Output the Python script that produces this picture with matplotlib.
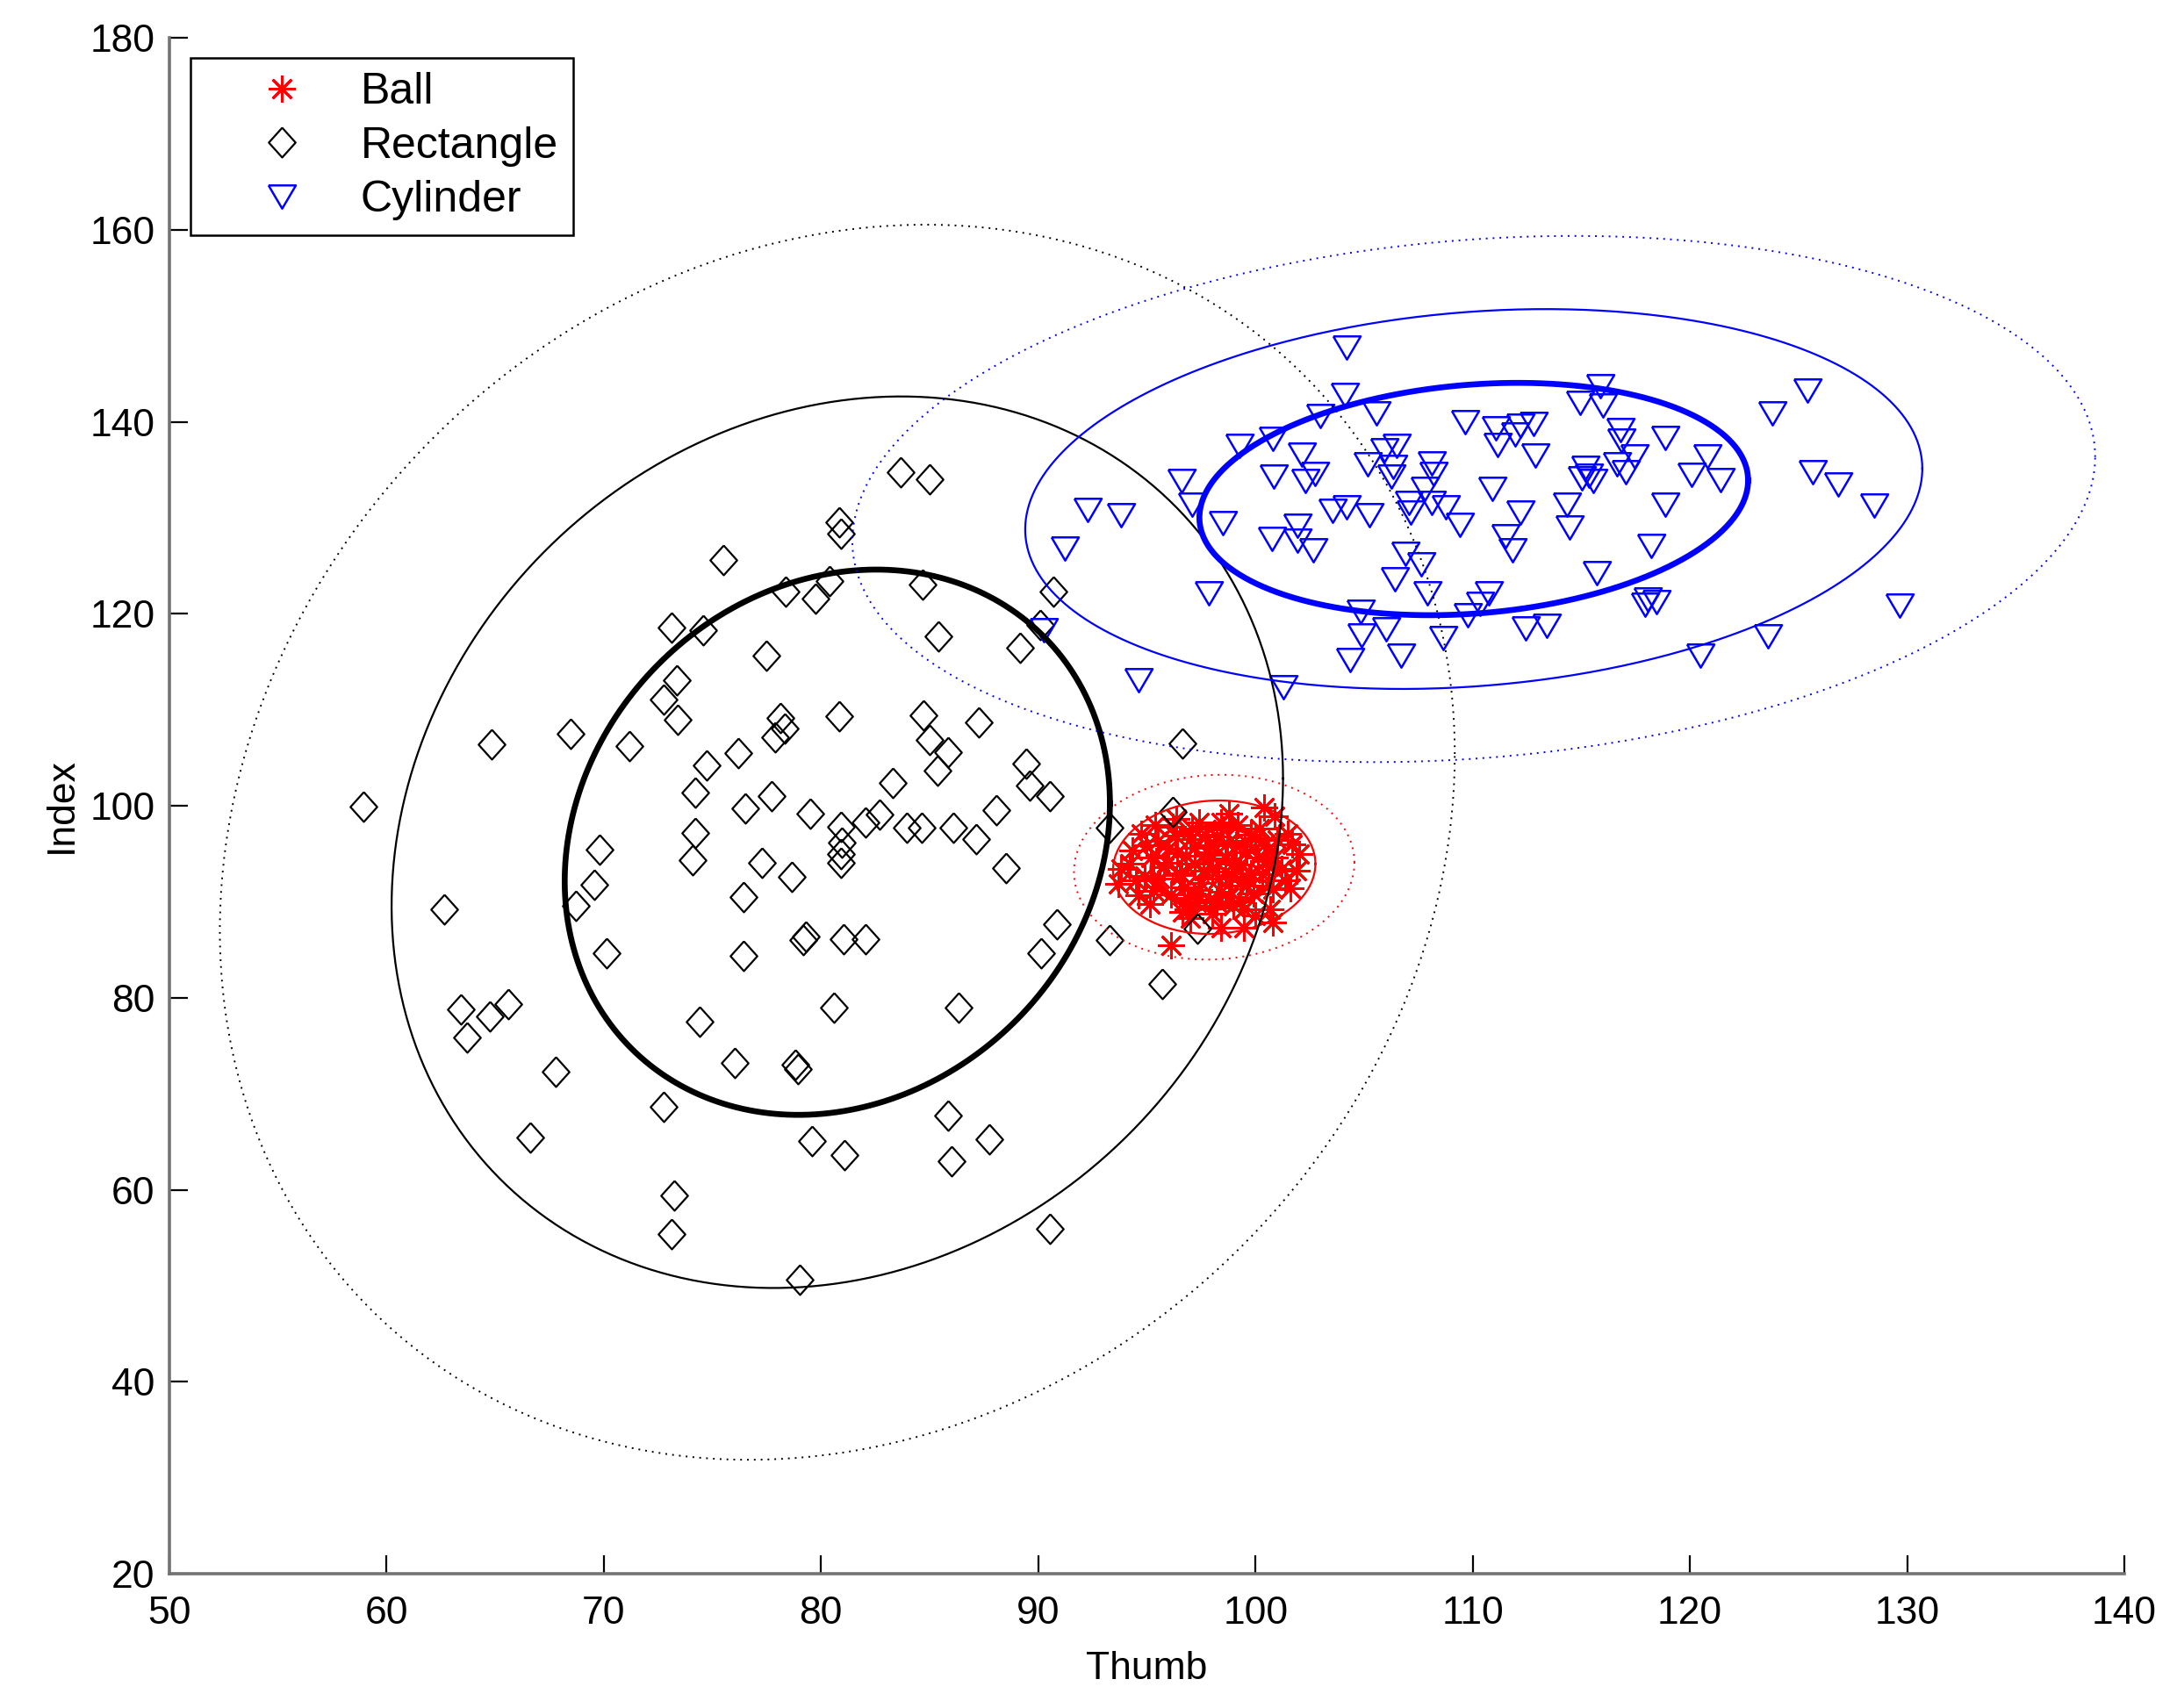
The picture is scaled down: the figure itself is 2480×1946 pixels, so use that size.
import numpy as np
import matplotlib.pyplot as plt

plt.rcParams['font.family'] = ['Liberation Sans', 'DejaVu Sans']

# Ball grasp samples (thumb, index)
ball_thumb = [98.8, 100.4, 100.9, 101.5, 102.0, 101.9, 101.35, 101.2, 100.67, 100.0,
              99.45, 98.4, 96.65, 96.1, 94.35, 93.8, 93.7, 94.6, 94.75, 95.4,
              96.36, 97.4, 96.9, 95.15, 99.45, 101.6, 101.7, 100.8,
              96.0, 96.5, 97.0, 97.2, 97.5, 97.8, 98.0, 98.2, 98.4, 98.6,
              98.9, 99.1, 99.3, 99.6, 99.8, 100.1, 100.3, 95.6, 95.9, 96.3,
              96.7, 97.1, 97.6, 97.9, 98.1, 98.5, 98.8, 99.0, 99.5, 99.9,
              100.4, 100.6, 95.5, 96.1, 96.8, 97.3, 97.7, 98.3, 99.2, 99.7,
              100.2, 95.2, 94.9, 100.8, 98.0, 97.0,
              95.8, 96.4, 97.4, 98.7, 99.4, 100.5, 96.2, 97.9, 99.0, 100.0,
              95.3, 96.6, 98.2, 99.8, 101.0, 94.5, 97.2, 98.6, 99.3, 100.9,
              95.0, 96.9, 98.4, 99.6, 94.2]
ball_index = [99.2, 99.8, 98.9, 97.1, 95.0, 93.2, 92.2, 93.4, 89.2, 88.6,
              87.3, 87.3, 88.9, 85.5, 95.3, 93.4, 91.9, 90.7, 97.1, 98.0,
              98.6, 98.3, 90.4, 89.8, 89.2, 91.4, 96.0, 87.8,
              95.5, 93.0, 96.5, 94.0, 92.0, 95.2, 93.5, 96.8, 91.0, 94.5,
              92.6, 95.8, 93.9, 91.7, 97.0, 94.6, 92.9, 92.4, 94.1, 96.9,
              91.5, 97.6, 93.2, 90.2, 95.9, 97.5, 90.5, 94.0, 96.3, 90.9,
              95.9, 93.7, 96.3, 90.8, 94.8, 89.9, 97.0, 92.4, 98.0, 92.3,
              97.6, 94.6, 92.7, 91.3, 88.8, 88.3,
              93.6, 95.1, 91.2, 96.1, 92.1, 94.2, 97.8, 94.9, 89.6, 96.6,
              91.1, 92.8, 89.9, 93.0, 96.4, 92.2, 95.6, 93.1, 90.0, 94.6,
              95.9, 89.2, 98.3, 95.2, 94.0]

# Rectangle grasp samples
rect_thumb = [58.92, 64.83, 68.46, 71.19, 75.5, 73.10, 74.57, 73.35, 72.76, 73.39,
              74.75, 76.19, 74.2, 76.5, 74.2, 74.09, 69.8, 77.5,
              62.64, 69.56, 68.7, 76.43, 76.43, 70.13, 63.4, 64.75, 65.61, 63.7,
              74.4, 76.04, 67.79, 72.77, 66.62, 73.25, 73.13,
              83.66, 84.98, 80.82, 80.92, 80.41, 78.38, 79.73, 84.68, 90.7, 90.1,
              85.4, 89.15, 96.64, 78.12, 78.35, 77.9, 80.82, 84.7, 87.25, 85.0,
              85.83, 85.38, 89.46, 89.6, 90.54, 83.29, 77.72, 79.52, 80.92, 82.04,
              82.71, 83.95, 84.63, 86.08, 88.07, 87.14, 96.18, 93.3, 80.96, 80.9,
              80.9, 77.3, 78.65, 88.5,
              79.32, 79.17, 81.04, 82.05, 90.84, 90.13, 93.3, 95.7, 97.34, 80.59,
              86.35, 78.8, 78.95, 85.83, 79.6, 81.09, 87.73, 86.02, 90.53, 79.02]
rect_index = [99.9, 106.4, 107.5, 106.2, 125.6, 118.55, 118.3, 113.1, 111.1, 109.0,
              104.25, 105.5, 101.4, 99.7, 97.2, 94.35, 95.4, 115.6,
              89.2, 91.8, 89.6, 90.5, 84.35, 84.65, 78.8, 78.05, 79.35, 75.9,
              77.5, 73.24, 72.3, 68.6, 65.46, 59.37, 55.35,
              134.7, 134.05, 129.5, 128.3, 123.45, 122.3, 121.6, 123.0, 122.3, 118.8,
              117.66, 116.45, 106.5, 109.1, 108.06, 107.15, 109.3, 109.4, 108.7, 106.85,
              105.6, 103.65, 104.4, 102.1, 101.05, 102.4, 101.05, 99.2, 97.85, 98.3,
              99.1, 97.7, 97.7, 97.7, 99.5, 96.5, 99.4, 97.7, 96.2, 95.0,
              94.1, 94.1, 92.6, 93.5,
              86.4, 86.0, 86.1, 86.1, 87.65, 84.6, 85.97, 81.4, 87.2, 78.96,
              78.96, 73.0, 72.6, 67.7, 65.1, 63.6, 65.25, 62.97, 55.96, 50.6]

# Cylinder grasp samples
cyl_thumb = [104.18, 104.13, 102.98, 105.58, 109.65, 111.06, 111.14, 112.18, 112.8, 111.94,
             112.9, 99.27, 100.8, 102.15, 100.83, 102.3, 102.75, 96.6, 97.07, 98.51,
             92.28, 93.8, 91.24, 97.87, 94.63, 101.3, 105.15, 105.94, 106.5, 106.35,
             106.27, 108.1, 108.2, 107.78, 110.9, 103.55, 104.18, 105.23, 107.06, 108.1,
             108.75, 107.14, 112.18, 100.75, 101.95, 101.95, 102.67, 109.4, 111.53, 111.85,
             106.9, 107.62, 106.4, 107.9, 110.74, 110.34, 109.78, 104.83, 104.9, 106.02,
             104.34, 106.71, 108.63, 112.42, 113.4, 90.24,
             115.87, 114.93, 116.0, 116.8, 116.84, 117.45, 117.05, 116.64, 118.86, 115.2,
             115.02, 115.55, 115.36, 120.79, 120.07, 121.42, 118.86, 114.34, 114.44, 118.2,
             115.7, 125.4, 123.78, 125.67, 126.84, 128.5, 129.64, 123.58, 120.48, 118.05,
             118.46, 117.92]
cyl_index = [147.7, 142.8, 140.6, 140.9, 140.0, 139.3, 137.6, 139.6, 139.8, 138.7,
             136.5, 137.5, 138.2, 136.6, 134.3, 133.8, 134.6, 133.8, 131.4, 129.4,
             130.8, 130.3, 126.8, 122.1, 113.1, 112.3, 135.6, 137.0, 137.5, 135.3,
             134.3, 135.7, 134.6, 133.05, 133.05, 130.7, 131.1, 130.3, 131.5, 131.5,
             131.1, 130.5, 130.55, 127.8, 129.2, 127.6, 126.6, 129.3, 128.1, 126.65,
             126.2, 125.1, 123.6, 122.1, 122.1, 121.0, 119.8, 120.2, 117.75, 118.4,
             115.2, 115.6, 117.45, 118.5, 118.7, 118.3,
             143.7, 142.0, 141.7, 139.1, 138.07, 136.4, 134.7, 135.6, 138.3, 135.2,
             134.1, 133.8, 134.4, 136.4, 134.5, 133.9, 131.4, 131.4, 129.0, 127.1,
             124.2, 143.25, 140.9, 134.7, 133.5, 131.25, 120.86, 117.66, 115.6, 121.5,
             121.2, 120.9]

# confidence ellipses: centre, spread in thumb / index, correlation
ell_cx = [98.1, 80.75, 110.05]
ell_cy = [93.6, 96.2, 131.95]
ell_sx = [2.85, 12.55, 12.63]
ell_sy = [4.25, 28.4, 12.1]
ell_rho = [0.05, 0.143, 0.16]
ell_scale = [1.0, 1.635, 2.265]
colors = ['red', 'black', 'blue']

diamond = [(0, 1), (0.9, 0), (0, -1), (-0.9, 0), (0, 1)]
tri_down = [(-1, 0.85), (1, 0.85), (0, -0.85), (-1, 0.85)]

fig = plt.figure(figsize=(12.4, 9.73), dpi=200)
ax = fig.add_axes([0.0778, 0.0786, 0.898, 0.8993])

ax.plot(ball_thumb, ball_index, ls='none', marker=(8, 2, 0), ms=11, mew=1.0,
        color='red', label='Ball')
ax.plot(rect_thumb, rect_index, ls='none', marker=diamond, ms=12.2, mew=0.8,
        mfc='none', mec='black', label='Rectangle')
ax.plot(cyl_thumb, cyl_index, ls='none', marker=tri_down, ms=11.2, mew=0.9,
        mfc='none', mec='blue', label='Cylinder')

t = np.linspace(0, 2 * np.pi, 500)
styles = ['-', '-', (0, (1, 3))]
widths = [2.4, 0.8, 0.7]
for i in range(3):
    for k, ls, lw in zip(ell_scale, styles, widths):
        ex = ell_cx[i] + k * ell_sx[i] * np.cos(t)
        ey = ell_cy[i] + k * ell_sy[i] * (ell_rho[i] * np.cos(t)
                                          + np.sqrt(1 - ell_rho[i] ** 2) * np.sin(t))
        ax.plot(ex, ey, color=colors[i], lw=lw, ls=ls)

ax.set_xlim(50, 140)
ax.set_ylim(20, 180)
ax.set_xticks(np.arange(50, 141, 10))
ax.set_yticks(np.arange(20, 181, 20))
ax.spines['top'].set_visible(False)
ax.spines['right'].set_visible(False)
for s in ['left', 'bottom']:
    ax.spines[s].set_color('0.45')
    ax.spines[s].set_linewidth(1.3)
ax.tick_params(direction='in', length=7.5, width=0.8, labelsize=16)
ax.tick_params(axis='x', pad=9)
ax.tick_params(axis='y', pad=6)
ax.set_xlabel('Thumb', fontsize=16, labelpad=8)
ax.set_ylabel('Index', fontsize=16, labelpad=4)

leg = ax.legend(loc='upper left', bbox_to_anchor=(0.0108, 0.987), borderaxespad=0,
                fancybox=False, edgecolor='black', framealpha=1, fontsize=18,
                handlelength=3.5, handletextpad=0.05, labelspacing=0.31,
                borderpad=0.33)
leg.get_frame().set_linewidth(0.9)

fig.savefig('out.png', dpi=200)
